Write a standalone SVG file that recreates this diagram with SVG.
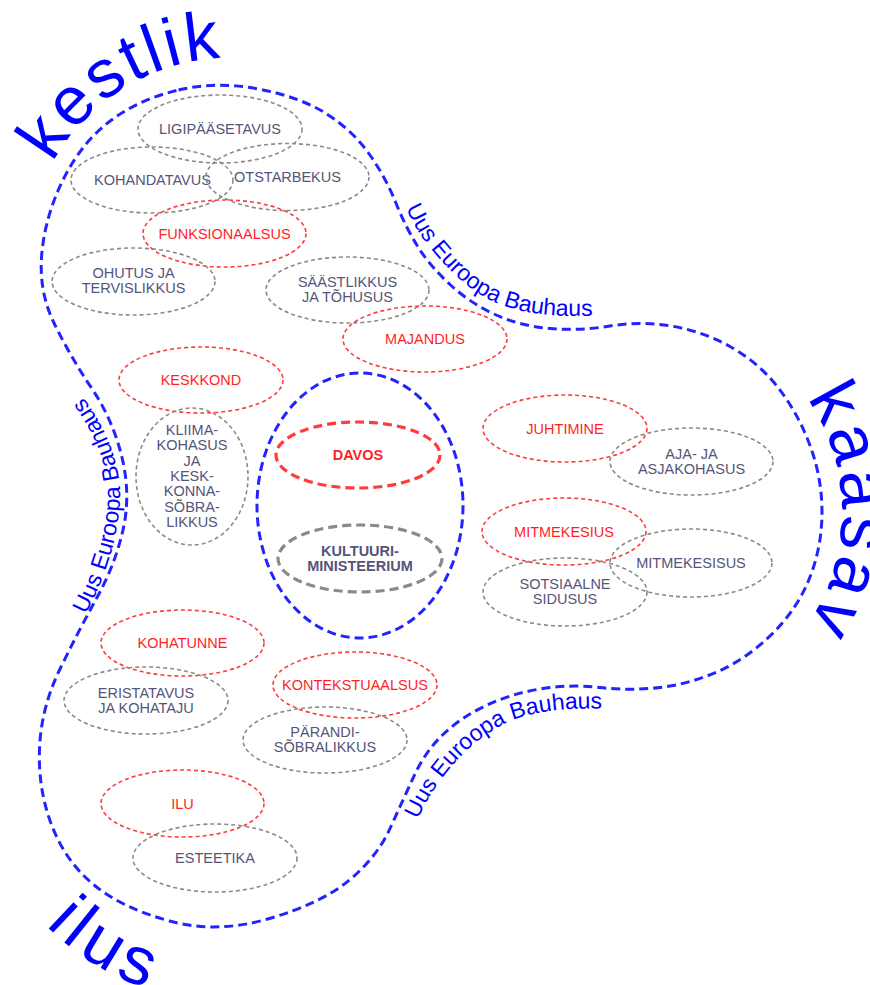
<svg xmlns="http://www.w3.org/2000/svg" width="870" height="985" viewBox="0 0 870 985">
<style>
.blob{fill:none;stroke:#2323ff;stroke-width:3;stroke-dasharray:9 5}
.eg{fill:none;stroke:#8a8a8a;stroke-width:1.6;stroke-dasharray:4 3}
.er{fill:none;stroke:#ff3b3b;stroke-width:1.6;stroke-dasharray:4 3}
.thick{stroke-width:3.2;stroke-dasharray:9 5}
.t{font-family:"Liberation Sans",Arial,sans-serif;font-size:14.5px;text-anchor:middle}
.tg{fill:#55557a}
.tr{fill:#ff1f1f}
.b{font-weight:bold}
.big{font-family:"Liberation Sans",Arial,sans-serif;font-size:68px;fill:#0000ff}
.ueb{font-family:"Liberation Sans",Arial,sans-serif;font-size:23px;fill:#0000ff}
</style>
<defs>
<path id="pKestlik" d="M 46.9 174.6 A 202 202 0 0 1 299.1 70.2"/>
<path id="pKaasav" d="M 794.7 382.2 A 202 202 0 0 1 769.8 666.7"/>
<path id="pIlus" d="M 33.5 911.7 A 250 250 0 0 0 225 1001"/>
<path id="pUR" d="M 402 200 C 412 222, 420 236, 432 250 C 450 272, 472 294, 502 305 C 532 316, 566 318, 625 314"/>
<path id="pLR" d="M 410 838 C 428 788, 464 742, 510 721 C 545 707, 590 707, 640 710"/>
<path id="pL" d="M 80 625 C 100 590, 118 545, 120 500 C 121 465, 108 430, 80 393"/>
</defs>
<g id="boundary">
<path class="blob" d="M 178.5 90 Q 217 81 258.5 89 Q 300 97 326 113.5 Q 352 130 368.5 153 Q 385 176 395.5 202 Q 406 228 418 247 Q 430 266 450 284.5 Q 470 303 495 314.5 Q 520 326 550 328.5 Q 580 331 610 326 Q 640 321 671 326 Q 702 331 730 346.5 Q 758 362 778 387.5 Q 798 413 810 445.5 Q 822 478 822 512 Q 822 546 810 577 Q 798 608 773 633 Q 748 658 719 671 Q 690 684 660 687.5 Q 630 691 600 687.5 Q 570 684 540 689 Q 510 694 485 706 Q 460 718 442.5 735 Q 425 752 414 776 Q 403 800 390 828.5 Q 377 857 349.5 880 Q 322 903 269.5 918.5 Q 217 934 169.5 921 Q 122 908 94 885 Q 66 862 52 826 Q 38 790 39.5 749 Q 41 708 60 669 Q 79 630 97 597.5 Q 115 565 123 530 Q 131 495 122 457.5 Q 113 420 91.5 388 Q 70 356 54 323 Q 38 290 42 251.5 Q 46 213 64.5 177 Q 83 141 111.5 120 Q 140 99 178.5 90 Z"/>
<ellipse class="blob" cx="360" cy="505.5" rx="103" ry="132.5"/>
</g>
<g id="labels">
<text class="big" letter-spacing="3"><textPath href="#pKestlik" startOffset="13">kestlik</textPath></text>
<text class="big" letter-spacing="4.5"><textPath href="#pKaasav" startOffset="20">kaasav</textPath></text>
<text class="big" letter-spacing="6"><textPath href="#pIlus" startOffset="18">ilus</textPath></text>
<text class="ueb"><textPath href="#pUR" startOffset="9">Uus Euroopa Bauhaus</textPath></text>
<text class="ueb"><textPath href="#pLR" startOffset="20">Uus Euroopa Bauhaus</textPath></text>
<text class="ueb"><textPath href="#pL" startOffset="12">Uus Euroopa Bauhaus</textPath></text>
</g>
<g id="connectors"></g>
<g id="n-ligipaasetavus"><ellipse class="eg" cx="220" cy="129" rx="82" ry="34"/><text class="t tg" x="220" y="134">LIGIPÄÄSETAVUS</text></g>
<g id="n-kohandatavus"><ellipse class="eg" cx="152" cy="180" rx="81" ry="33"/><text class="t tg" x="152.5" y="185">KOHANDATAVUS</text></g>
<g id="n-otstarbekus"><ellipse class="eg" cx="287.5" cy="177" rx="81.5" ry="33.5"/><text class="t tg" x="287.5" y="182">OTSTARBEKUS</text></g>
<g id="n-funktsionaalsus"><ellipse class="er" cx="224.5" cy="233.5" rx="81.5" ry="33.5"/><text class="t tr" x="224.5" y="238.5">FUNKSIONAALSUS</text></g>
<g id="n-ohutus"><ellipse class="eg" cx="133.5" cy="281.5" rx="81.5" ry="33.5"/><text class="t tg" x="133.5" y="278">OHUTUS JA</text><text class="t tg" x="133.5" y="293">TERVISLIKKUS</text></g>
<g id="n-saastlikkus"><ellipse class="eg" cx="347.5" cy="290" rx="81.5" ry="33"/><text class="t tg" x="347.5" y="287">SÄÄSTLIKKUS</text><text class="t tg" x="347.5" y="302">JA TÕHUSUS</text></g>
<g id="n-majandus"><ellipse class="er" cx="425" cy="339" rx="82" ry="33"/><text class="t tr" x="425" y="344">MAJANDUS</text></g>
<g id="n-keskkond"><ellipse class="er" cx="201" cy="380" rx="82" ry="33"/><text class="t tr" x="201" y="385">KESKKOND</text></g>
<g id="n-kliima"><ellipse class="eg" cx="192" cy="476.5" rx="56" ry="68.5"/>
<text class="t tg" x="192" y="435">KLIIMA-</text><text class="t tg" x="192" y="450.3">KOHASUS</text><text class="t tg" x="192" y="465.6">JA</text><text class="t tg" x="192" y="481">KESK-</text><text class="t tg" x="192" y="496.3">KONNA-</text><text class="t tg" x="192" y="511.6">SÕBRA-</text><text class="t tg" x="192" y="527">LIKKUS</text></g>
<g id="n-davos"><ellipse class="er thick" cx="358" cy="455" rx="82" ry="33"/><text class="t tr b" x="358" y="460">DAVOS</text></g>
<g id="n-kultuuriministeerium"><ellipse class="eg thick" cx="360" cy="558.5" rx="82" ry="33.5"/><text class="t tg b" x="360" y="556">KULTUURI-</text><text class="t tg b" x="360" y="571">MINISTEERIUM</text></g>
<g id="n-juhtimine"><ellipse class="er" cx="565" cy="428.5" rx="82" ry="33.5"/><text class="t tr" x="565" y="433.5">JUHTIMINE</text></g>
<g id="n-ajakohasus"><ellipse class="eg" cx="691.5" cy="461.5" rx="81.5" ry="33.5"/><text class="t tg" x="691.5" y="458.5">AJA- JA</text><text class="t tg" x="691.5" y="473.5">ASJAKOHASUS</text></g>
<g id="n-mitmekesius"><ellipse class="er" cx="564" cy="531.5" rx="82" ry="33.5"/><text class="t tr" x="564" y="536.5">MITMEKESIUS</text></g>
<g id="n-mitmekesisus"><ellipse class="eg" cx="691" cy="563" rx="81" ry="34"/><text class="t tg" x="691" y="568">MITMEKESISUS</text></g>
<g id="n-sotsiaalne"><ellipse class="eg" cx="565" cy="592" rx="82" ry="34"/><text class="t tg" x="565" y="589">SOTSIAALNE</text><text class="t tg" x="565" y="604">SIDUSUS</text></g>
<g id="n-kohatunne"><ellipse class="er" cx="182.5" cy="643" rx="81.5" ry="33"/><text class="t tr" x="182.5" y="648">KOHATUNNE</text></g>
<g id="n-eristatavus"><ellipse class="eg" cx="146" cy="700.5" rx="82" ry="33.5"/><text class="t tg" x="146" y="697.5">ERISTATAVUS</text><text class="t tg" x="146" y="712.5">JA KOHATAJU</text></g>
<g id="n-kontekstuaalsus"><ellipse class="er" cx="355" cy="685" rx="82" ry="33"/><text class="t tr" x="355" y="690">KONTEKSTUAALSUS</text></g>
<g id="n-parandisobralikkus"><ellipse class="eg" cx="325" cy="740" rx="82" ry="33"/><text class="t tg" x="325" y="737">PÄRANDI-</text><text class="t tg" x="325" y="752">SÕBRALIKKUS</text></g>
<g id="n-ilu"><ellipse class="er" cx="182.5" cy="803.5" rx="81.5" ry="33.5"/><text class="t tr" x="182.5" y="808.5">ILU</text></g>
<g id="n-esteetika"><ellipse class="eg" cx="215" cy="858" rx="82" ry="34"/><text class="t tg" x="215" y="863">ESTEETIKA</text></g>
</svg>
